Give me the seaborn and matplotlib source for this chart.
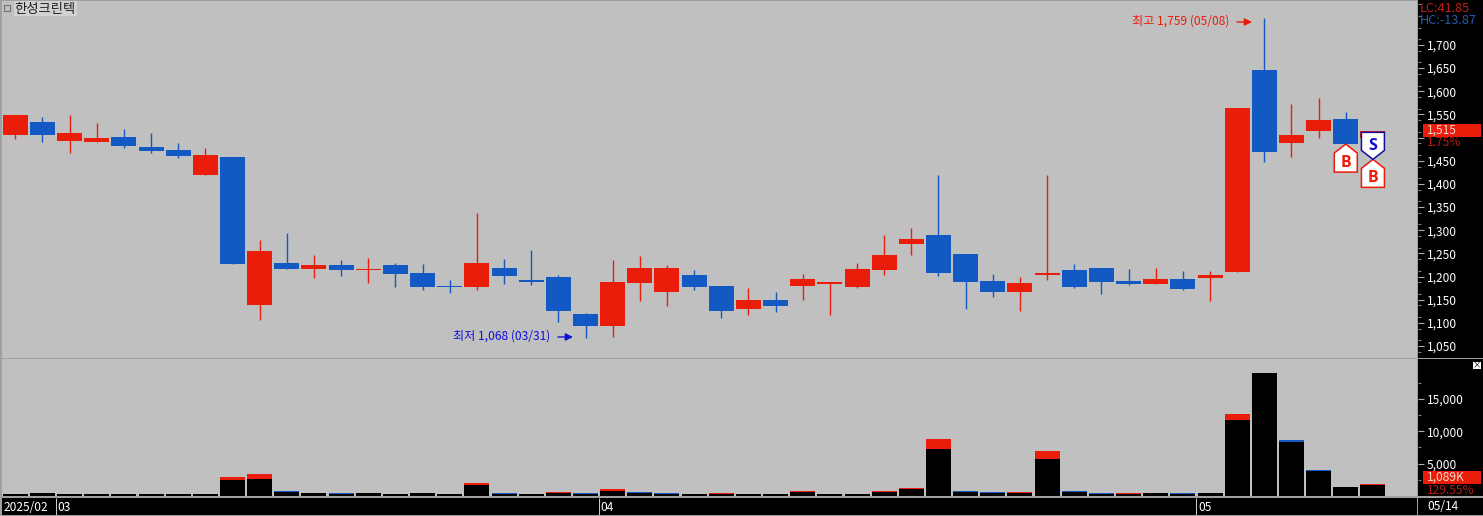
import numpy as np
import pandas as pd
import matplotlib
matplotlib.use('Agg')
import matplotlib.pyplot as plt
from matplotlib.patches import Polygon, Rectangle, FancyArrowPatch
from matplotlib.ticker import FixedLocator
from matplotlib.transforms import IdentityTransform
import seaborn as sns

# 시세 데이터
opens = [1506, 1534, 1493, 1490, 1502, 1480, 1473, 1419, 1459, 1138, 1229, 1216, 1225, 1214, 1225, 1208, 1179,
         1177, 1218, 1192, 1199, 1119, 1093, 1186, 1166, 1203, 1179, 1130, 1149, 1179, 1184, 1177, 1214, 1270,
         1290, 1249, 1190, 1166, 1203, 1214, 1218, 1190, 1184, 1195, 1197, 1210, 1646, 1488, 1514, 1540, 1500]
closes = [1549, 1506, 1511, 1500, 1482, 1471, 1460, 1462, 1227, 1255, 1216, 1225, 1214, 1216, 1205, 1177, 1177,
          1229, 1201, 1188, 1125, 1093, 1188, 1218, 1218, 1177, 1125, 1149, 1136, 1195, 1188, 1216, 1246, 1281,
          1208, 1188, 1166, 1186, 1208, 1177, 1188, 1184, 1195, 1173, 1203, 1564, 1469, 1506, 1538, 1486, 1515]
highs = [1549, 1545, 1549, 1531, 1518, 1509, 1489, 1477, 1459, 1279, 1294, 1246, 1236, 1240, 1229, 1227, 1192,
         1337, 1238, 1257, 1203, 1121, 1236, 1244, 1225, 1214, 1179, 1175, 1166, 1205, 1188, 1229, 1290, 1305,
         1419, 1249, 1205, 1199, 1419, 1227, 1218, 1216, 1218, 1212, 1212, 1564, 1759, 1572, 1586, 1555, 1515]
lows = [1498, 1490, 1466, 1490, 1478, 1466, 1456, 1419, 1227, 1106, 1216, 1197, 1201, 1186, 1177, 1171, 1164,
        1171, 1184, 1182, 1102, 1068, 1069, 1147, 1136, 1171, 1110, 1117, 1123, 1149, 1117, 1175, 1203, 1246,
        1201, 1130, 1156, 1125, 1192, 1175, 1162, 1182, 1184, 1171, 1147, 1210, 1447, 1458, 1499, 1486, 1500]

vol_total = [280, 434, 280, 280, 280, 280, 280, 280, 2914, 3379, 790, 434, 480, 434, 280, 434, 280,
             2030, 480, 280, 589, 480, 1054, 589, 480, 280, 480, 280, 280, 790, 280, 280, 790, 1209,
             8804, 790, 636, 589, 6944, 790, 480, 480, 434, 480, 434, 12679, 19034, 8649, 3999, 1364, 1829]
vol_black = [280, 434, 280, 280, 280, 280, 280, 280, 2449, 2604, 635, 434, 325, 434, 280, 434, 280,
             1674, 325, 280, 434, 325, 698, 434, 325, 280, 325, 280, 280, 635, 280, 280, 635, 1050,
             7254, 635, 480, 434, 5704, 635, 325, 325, 434, 325, 434, 11749, 19034, 8339, 3844, 1364, 1674]
vol_cap = ['k', 'k', 'k', 'k', 'k', 'k', 'k', 'k', 'r', 'r', 'b', 'k', 'b', 'k', 'k', 'k', 'k',
           'r', 'b', 'k', 'r', 'b', 'r', 'b', 'b', 'k', 'r', 'k', 'k', 'r', 'k', 'k', 'r', 'r',
           'r', 'b', 'b', 'r', 'r', 'b', 'b', 'r', 'k', 'b', 'k', 'r', 'k', 'b', 'b', 'k', 'r']

price_ticks = [1050, 1100, 1150, 1200, 1250, 1300, 1350, 1400, 1450, 1500, 1550, 1600, 1650, 1700]
price_labels = ['1,050', '1,100', '1,150', '1,200', '1,250', '1,300', '1,350', '1,400', '1,450', '',
                '1,550', '1,600', '1,650', '1,700']
vol_ticks = [5000, 10000, 15000]
vol_labels = ['5,000', '10,000', '15,000']

month_start = [2, 22, 44]
month_labels = ['03', '04', '05']

signal_idx = [49, 50, 50]
signal_price = [1486, 1453, 1453]
signal_kind = ['B', 'B', 'S']

RED = '#EA1C0A'
BLUE = '#1259C3'
BG = '#C0C0C0'
LINE = '#A0A0A0'
W, H = 1483, 516

sns.set_theme(style='white')
plt.rcParams['font.family'] = ['Noto Sans CJK KR', 'DejaVu Sans']
plt.rcParams['axes.unicode_minus'] = False


def box(left, top, right, bottom):
    return [left / W, 1 - bottom / H, (right - left) / W, (bottom - top) / H]


def ftext(x, y, s, **kw):
    kw.setdefault('va', 'center')
    kw.setdefault('ha', 'left')
    fig.text(x / W, 1 - y / H, s, **kw)


df = pd.DataFrame({'idx': np.arange(len(opens)), 'open': opens, 'close': closes, 'high': highs, 'low': lows,
                   'total': vol_total, 'black': vol_black, 'cap': vol_cap})
df['up'] = df['close'] >= df['open']
df['base'] = df[['open', 'close']].min(axis=1)
df['body'] = (df['close'] - df['open']).abs()

fig = plt.figure(figsize=(W / 100, H / 100), dpi=100, facecolor='black')
ax = fig.add_axes(box(2, 1, 1418, 358), facecolor=BG)
ax_vol = fig.add_axes(box(2, 359, 1418, 495.8), facecolor=BG)
ax_date = fig.add_axes(box(2, 498, 1418, 515), facecolor='black')

# 캔들
ax.vlines(df['idx'], df['low'], df['high'], colors=[RED if u else BLUE for u in df['up']], lw=1.0)
for up, color in [(True, RED), (False, BLUE)]:
    part = df[df['up'] == up]
    sns.barplot(data=part, x='idx', y='body', bottom=part['base'].values, native_scale=True, width=0.92,
                color=color, saturation=1, errorbar=None, linewidth=0, ax=ax)

# 거래량
for cap, color in [('r', RED), ('b', BLUE)]:
    part = df[df['cap'] == cap]
    sns.barplot(data=part, x='idx', y='total', native_scale=True, width=0.92, color=color, saturation=1,
                errorbar=None, linewidth=0, ax=ax_vol)
sns.barplot(data=df, x='idx', y='black', native_scale=True, width=0.92, color='black', saturation=1,
            errorbar=None, linewidth=0, ax=ax_vol)

xlim = (-0.49, 51.66)
ax.set_xlim(xlim)
ax.set_ylim(1024, 1795)
ax_vol.set_xlim(xlim)
ax_vol.set_ylim(0, 21200)
ax_date.set_xlim(xlim)
ax_date.set_ylim(0, 1)

for a in [ax, ax_vol, ax_date]:
    a.set_xlabel('')
    a.set_ylabel('')
    a.set_xticks([])
    for s in a.spines.values():
        s.set_visible(False)

for a, ticks, labels, minor in [(ax, price_ticks, price_labels, np.arange(1037.5, 1790, 25)),
                                (ax_vol, vol_ticks, vol_labels, np.arange(2500, 20000, 5000))]:
    a.yaxis.tick_right()
    a.set_yticks(ticks)
    a.set_yticklabels(labels)
    a.yaxis.set_minor_locator(FixedLocator(minor))
    a.tick_params(axis='y', which='major', right=True, length=4.3, width=0.8, color='#B0B0B0',
                  labelcolor='white', labelsize=8.6, pad=2)
    a.tick_params(axis='y', which='minor', right=True, length=2.2, width=0.8, color='#808080')

# 하단 날짜 축
ax_date.set_yticks([])
ax_date.vlines([m - 0.5 for m in month_start], 0, 1, colors='#D0D0D0', lw=0.7)
for m, label in zip(month_start, month_labels):
    ax_date.text(m - 0.44, 0.47, label, color='white', fontsize=8.6, va='center')
ax_date.text(-0.44, 0.47, '2025/02', color='white', fontsize=8.6, va='center')

# 테두리 선
for rect in [(0, 0, 2, 516), (0, 0, 1418, 1), (0, 358, 1483, 359), (0, 496, 1483, 498), (0, 515, 1483, 516),
             (1417, 0, 1418, 516)]:
    fig.add_artist(Rectangle((rect[0] / W, 1 - rect[3] / H), (rect[2] - rect[0]) / W, (rect[3] - rect[1]) / H,
                             transform=fig.transFigure, facecolor=LINE, edgecolor='none', zorder=5))

# 종목명
fig.add_artist(Rectangle((3.5 / W, 1 - 11 / H), 6 / W, 6 / H, transform=fig.transFigure, facecolor=BG,
                         edgecolor='#707070', lw=0.8))
ftext(14.5, 8.5, '한성크린텍', color='#202020', fontsize=9.6, zorder=6,
      bbox=dict(facecolor='#D2D2D2', edgecolor='none', pad=0.6))

# 최고 / 최저 표시
ftext(1132, 21, '최고 1,759 (05/08)', color=RED, fontsize=8.7, fontweight='light')
ftext(453, 336, '최저 1,068 (03/31)', color='#1010D8', fontsize=8.7, fontweight='light')
for (x0, x1, y, color) in [(1237, 1252, 22, RED), (558, 573, 337, '#1010D8')]:
    fig.add_artist(FancyArrowPatch((x0 / W, 1 - y / H), (x1 / W, 1 - y / H), transform=fig.transFigure,
                                   arrowstyle='-|>', mutation_scale=11, color=color, lw=1, shrinkA=0, shrinkB=0))

# 오른쪽 정보
ftext(1420, 8, 'LC:41.85', color='#C02018', fontsize=9.2, zorder=7)
ftext(1420, 20, 'HC:-13.87', color='#2858B0', fontsize=9.2, zorder=7)
fig.add_artist(Rectangle((1423 / W, 1 - 137 / H), 58 / W, 13 / H, transform=fig.transFigure, facecolor=RED,
                         edgecolor='none', zorder=6))
ftext(1427, 130, '1,515', color='#F4D8D0', fontsize=8.6, zorder=7)
ftext(1427, 143, '1.75%', color='#B02018', fontsize=8.6, zorder=7)
fig.add_artist(Rectangle((1423 / W, 1 - 484 / H), 58 / W, 13 / H, transform=fig.transFigure, facecolor=RED,
                         edgecolor='none', zorder=6))
ftext(1427, 477.5, '1,089K', color='#F4D8D0', fontsize=8.6, zorder=7)
ftext(1427, 490, '129.55%', color='#B02018', fontsize=8.6, zorder=7)
ftext(1427, 506, '05/14', color='white', fontsize=8.6, zorder=7)
fig.add_artist(Rectangle((1473 / W, 1 - 369 / H), 8 / W, 7 / H, transform=fig.transFigure, facecolor='white',
                         edgecolor='none', zorder=6))
ftext(1477, 365, '×', color='black', fontsize=6, ha='center', zorder=7)

# 매수 / 매도 신호
for i, p, kind in zip(signal_idx, signal_price, signal_kind):
    cx, cy = ax.transData.transform((i, p))
    if kind == 'B':
        verts = [(0, 0), (11.5, -9), (11.5, -28), (-11.5, -28), (-11.5, -9)]
        color, edge, ty = RED, RED, -19
    else:
        verts = [(0, 0), (11.5, 9), (11.5, 27), (-11.5, 27), (-11.5, 9)]
        color, edge, ty = '#1010D0', '#1010A0', 13
    xy = [(cx + a, cy + b) for a, b in verts]
    fig.add_artist(Polygon(xy, closed=True, facecolor='white', edgecolor=edge, lw=1.1,
                           transform=IdentityTransform(), zorder=8))
    fig.text(cx / W, (cy + ty) / H, kind, color=color, fontsize=11.5, fontweight='bold', ha='center',
             va='center', family=['Open Sans', 'DejaVu Sans'], zorder=9)

fig.savefig('out.png', dpi=100, facecolor=fig.get_facecolor())
